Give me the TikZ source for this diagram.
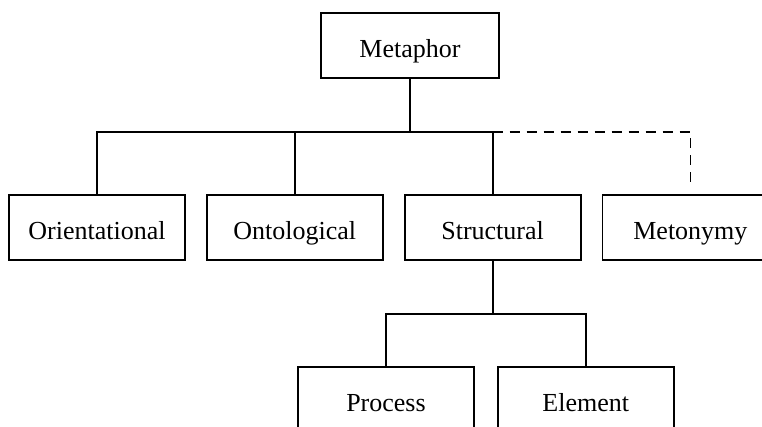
\documentclass[tikz,border=0pt]{standalone}
\usepackage{fontspec}
\setmainfont{Liberation Serif}
\usetikzlibrary{positioning}

\begin{document}
\begin{tikzpicture}[x=1pt,y=1pt,line width=1.8pt,node distance=20pt,
		font=\fontsize{26pt}{30pt}\selectfont,
		box/.style={rectangle,draw,minimum width=176pt,minimum height=65pt,inner sep=0pt,text height=23pt,text depth=0pt},
		link/.style={dash pattern=on 10pt off 7pt}]
		\useasboundingbox (0,0) rectangle (762,-426);
		\clip (0,0) rectangle (762,-426);
		% top
		\node[box, minimum width=178pt] (meta) at (410,-45.5) {Metaphor};
		% second row
		\node[box] (orient) at (97,-227.5) {Orientational};
		\node[box] (onto) [right=of orient] {Ontological};
		\node[box] (struct) [right=20pt of onto] {Structural};
		\node[box] (meton) [right=of struct] {Metonymy};
		% third row
		\node[box] (proc) at (386,-399.5) {Process};
		\node[box] (elem) [right=22pt of proc] {Element};
		\coordinate (bus) at (410,-132);
		\draw (meta.south) -- (bus);
		\draw (orient.north) |- (bus) -| (struct.north);
		\draw (onto.north) -- (onto.north |- bus);
		\draw[link] (struct.north |- bus) -| ([yshift=10pt]meton.north);
		\draw (struct.south) -- ++(0,-53) coordinate (subbus);
		\draw (proc.north) |- (subbus) -| (elem.north);
\end{tikzpicture}
\end{document}
